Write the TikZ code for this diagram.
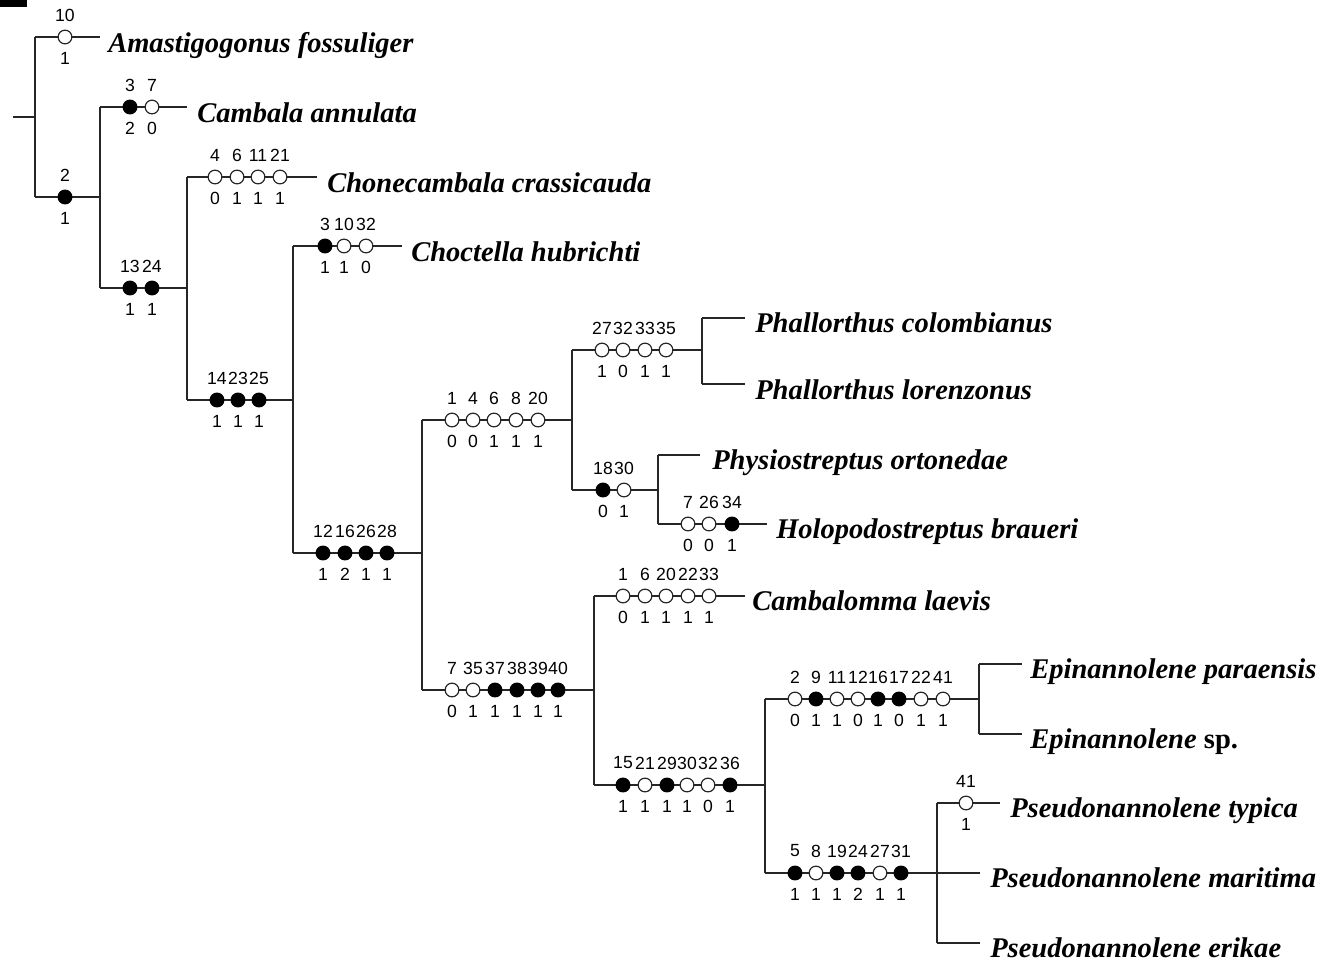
\documentclass[tikz,border=0pt]{standalone}
\usepackage{fontspec}
\setmainfont{Liberation Serif}
\setsansfont{Liberation Sans}
\begin{document}
\begin{tikzpicture}[x=0.75pt,y=-0.75pt,
  br/.style={line width=1.2pt,draw=black!85},
  op/.style={circle,draw=black!85,line width=0.9pt,fill=white,minimum size=10.3pt,inner sep=0pt},
  cl/.style={circle,draw=black,line width=0.9pt,fill=black,minimum size=10.3pt,inner sep=0pt},
  num/.style={font=\sffamily\fontsize{13.2}{14}\selectfont,inner sep=0pt},
  taxon/.style={font=\fontsize{21.4}{24}\selectfont\bfseries\itshape,anchor=base west,inner sep=0pt}]
\useasboundingbox (0,0) rectangle (1335,961);
\fill (0,0) rectangle (27,7);
% internal nodes (vertical x, incoming y)
\coordinate (r0) at (13,117);
\coordinate (R) at (35,117);
\coordinate (N2) at (100,197);
\coordinate (N13) at (187,288);
\coordinate (N14) at (293,400);
\coordinate (N12) at (422,553);
\coordinate (N146) at (572,420);
\coordinate (N27) at (702,350);
\coordinate (N18) at (658,490);
\coordinate (N735) at (594,690);
\coordinate (N15) at (765,785);
\coordinate (N29) at (979,699);
\coordinate (N58) at (937,873);
% tips
\coordinate (tA) at (100,37);
\coordinate (tCa) at (187,107);
\coordinate (tCh) at (317,177);
\coordinate (tCt) at (402,246);
\coordinate (tPc) at (745,318);
\coordinate (tPl) at (745,384);
\coordinate (tPh) at (700,455);
\coordinate (tHo) at (767,524);
\coordinate (tCm) at (745,596);
\coordinate (tEp) at (1022,664);
\coordinate (tEs) at (1022,734);
\coordinate (tPt) at (1000,803);
\coordinate (tPm) at (980,873);
\coordinate (tPe) at (980,943);
% tree
\draw[br] (r0) -- (R);
\newcommand\clade[2]{%
  \foreach \c [count=\i] in {#2} {\draw[br] (#1|-\c) -- (\c);}%
}
\draw[br] (R|-tA) -- (R|-N2); \clade{R}{tA,N2}
\draw[br] (N2|-tCa) -- (N2|-N13); \clade{N2}{tCa,N13}
\draw[br] (N13|-tCh) -- (N13|-N14); \clade{N13}{tCh,N14}
\draw[br] (N14|-tCt) -- (N14|-N12); \clade{N14}{tCt,N12}
\draw[br] (N12|-N146) -- (N12|-N735); \clade{N12}{N146,N735}
\draw[br] (N146|-N27) -- (N146|-N18); \clade{N146}{N27,N18}
\draw[br] (N27|-tPc) -- (N27|-tPl); \clade{N27}{tPc,tPl}
\draw[br] (N18|-tPh) -- (N18|-tHo); \clade{N18}{tPh,tHo}
\draw[br] (N735|-tCm) -- (N735|-N15); \clade{N735}{tCm,N15}
\draw[br] (N15|-N29) -- (N15|-N58); \clade{N15}{N29,N58}
\draw[br] (N29|-tEp) -- (N29|-tEs); \clade{N29}{tEp,tEs}
\draw[br] (N58|-tPt) -- (N58|-tPe); \clade{N58}{tPt,tPm,tPe}
% characters
\newcommand\chrow[2]{%
  \foreach \cx/\tp/\bt/\st in {#2} {%
    \node[\st] (c\cx-#1) at (\cx,#1) {};
    \node[num] (u\cx-#1) at (\cx,#1-22) {\tp};
    \node[num] (d\cx-#1) at (\cx,#1+21) {\bt};
  }%
}
\chrow{37}{65/10/1/op}
\chrow{197}{65/2/1/cl}
\chrow{107}{130/3/2/cl,152/7/0/op}
\chrow{288}{130/13/1/cl,152/24/1/cl}
\chrow{177}{215/4/0/op,237/6/1/op,258/11/1/op,280/21/1/op}
\chrow{400}{217/14/1/cl,238/23/1/cl,259/25/1/cl}
\chrow{246}{325/3/1/cl,344/10/1/op,366/32/0/op}
\chrow{553}{323/12/1/cl,345/16/2/cl,366/26/1/cl,387/28/1/cl}
\chrow{420}{452/1/0/op,473/4/0/op,494/6/1/op,516/8/1/op,538/20/1/op}
\chrow{690}{452/7/0/op,473/35/1/op,495/37/1/cl,517/38/1/cl,538/39/1/cl,558/40/1/cl}
\chrow{350}{602/27/1/op,623/32/0/op,645/33/1/op,666/35/1/op}
\chrow{490}{603/18/0/cl,624/30/1/op}
\chrow{524}{688/7/0/op,709/26/0/op,732/34/1/cl}
\chrow{596}{623/1/0/op,645/6/1/op,666/20/1/op,688/22/1/op,709/33/1/op}
\chrow{785}{623/15/1/cl,645/21/1/op,667/29/1/cl,687/30/1/op,708/32/0/op,730/36/1/cl}
\chrow{699}{795/2/0/op,816/9/1/cl,837/11/1/op,858/12/0/op,878/16/1/cl,899/17/0/cl,921/22/1/op,943/41/1/op}
\chrow{873}{795/5/1/cl,816/8/1/op,837/19/1/cl,858/24/2/cl,880/27/1/op,901/31/1/cl}
\chrow{803}{966/41/1/op}
% taxa
\node[taxon] (xA) at (108,52) {Amastigogonus fossuliger};
\node[taxon] (xCa) at (197,122) {Cambala annulata};
\node[taxon] (xCh) at (327,192) {Chonecambala crassicauda};
\node[taxon] (xCt) at (411,261) {Choctella hubrichti};
\node[taxon] (xPc) at (755,332) {Phallorthus colombianus};
\node[taxon] (xPl) at (755,399) {Phallorthus lorenzonus};
\node[taxon] (xPh) at (712,469) {Physiostreptus ortonedae};
\node[taxon] (xHo) at (776,538) {Holopodostreptus braueri};
\node[taxon] (xCm) at (752,610) {Cambalomma laevis};
\node[taxon] (xEp) at (1030,678) {Epinannolene paraensis};
\node[taxon] (xEs) at (1030,748) {Epinannolene \upshape sp.};
\node[taxon] (xPt) at (1010,817) {Pseudonannolene typica};
\node[taxon] (xPm) at (990,887) {Pseudonannolene maritima};
\node[taxon] (xPe) at (990,957) {Pseudonannolene erikae};
\end{tikzpicture}
\end{document}
